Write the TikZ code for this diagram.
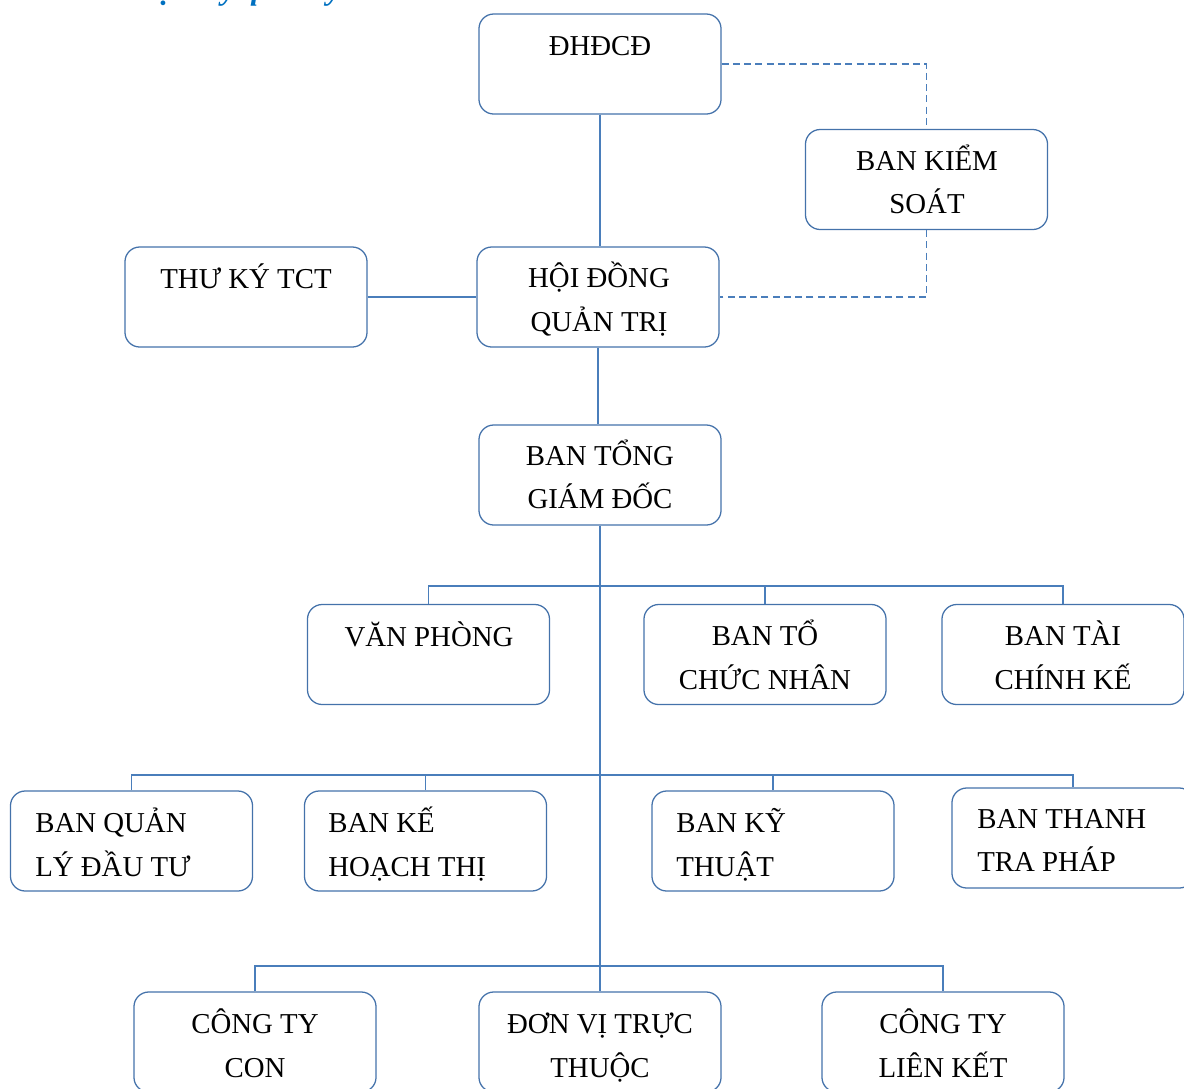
\documentclass[tikz,border=0pt]{standalone}
\usepackage{fontspec}
\setmainfont{Liberation Serif}
\usetikzlibrary{calc}
\definecolor{boxblue}{RGB}{68,114,170}
\definecolor{lineblue}{RGB}{74,126,187}
\definecolor{titleblue}{RGB}{0,112,192}

\begin{document}
\begin{tikzpicture}[x=0.025cm,y=-0.025cm,
  box/.style={draw=boxblue,line width=0.9pt,rounded corners=10.5pt,minimum width=6.05cm,minimum height=2.5cm,inner sep=0pt},
  txt/.style={font=\fontsize{20.5}{24}\selectfont,inner sep=0pt,anchor=base},
  txtl/.style={txt,anchor=base west},
  link/.style={draw=lineblue,line width=1.3pt},
  dashlink/.style={link,dashed,dash pattern=on 5pt off 3pt}]
  \useasboundingbox (0,0) rectangle (1184,1088);
  \node[txtl,font=\fontsize{22.5}{26}\selectfont\bfseries\itshape,text=titleblue] (title) at (136,-1) {Bộ máy quản lý};

  \node[box] (dhdcd) at (600,64) {};
  \node[box] (bks) at (926.5,179.5) {};
  \node[box] (thuky) at (246,297) {};
  \node[box] (hdqt) at (598,297) {};
  \node[box] (btgd) at (600,475) {};
  \node[box] (vp) at (428.5,654.5) {};
  \node[box] (btc) at (765,654.5) {};
  \node[box] (btck) at (1063,654.5) {};
  \node[box] (bql) at (131.5,841) {};
  \node[box] (bkh) at (425.5,841) {};
  \node[box] (bkt) at (773,841) {};
  \node[box] (btt) at (1073,838) {};
  \node[box] (ctc) at (255,1042) {};
  \node[box] (dvtt) at (600,1042) {};
  \node[box] (ctlk) at (943,1042) {};

  \node[txt] (dhdcdA) at (600,55) {ĐHĐCĐ};
  \node[txt] (bksA) at (927,170) {BAN KIỂM};
  \node[txt] (bksB) at (927,213) {SOÁT};
  \node[txt] (thukyA) at (246,288) {THƯ KÝ TCT};
  \node[txt] (hdqtA) at (599,287) {HỘI ĐỒNG};
  \node[txt] (hdqtB) at (599,331) {QUẢN TRỊ};
  \node[txt] (btgdA) at (600,465) {BAN TỔNG};
  \node[txt] (btgdB) at (600,508) {GIÁM ĐỐC};
  \node[txt] (vpA) at (429,646) {VĂN PHÒNG};
  \node[txt] (btcA) at (765,645) {BAN TỔ};
  \node[txt] (btcB) at (765,689) {CHỨC NHÂN};
  \node[txt] (btckA) at (1063,645) {BAN TÀI};
  \node[txt] (btckB) at (1063,689) {CHÍNH KẾ};
  \node[txtl] (bqlA) at (35,832) {BAN QUẢN};
  \node[txtl] (bqlB) at (35,876) {LÝ ĐẦU TƯ};
  \node[txtl] (bkhA) at (328,832) {BAN KẾ};
  \node[txtl] (bkhB) at (328,876) {HOẠCH THỊ};
  \node[txtl] (bktA) at (676,832) {BAN KỸ};
  \node[txtl] (bktB) at (676,876) {THUẬT};
  \node[txtl] (bttA) at (977,828) {BAN THANH};
  \node[txtl] (bttB) at (977,871) {TRA PHÁP};
  \node[txt] (ctcA) at (255,1033) {CÔNG TY};
  \node[txt] (ctcB) at (255,1077) {CON};
  \node[txt] (dvttA) at (600,1033) {ĐƠN VỊ TRỰC};
  \node[txt] (dvttB) at (600,1077) {THUỘC};
  \node[txt] (ctlkA) at (943,1033) {CÔNG TY};
  \node[txt] (ctlkB) at (943,1077) {LIÊN KẾT};

  \coordinate (bus1) at (600,586);
  \coordinate (bus2) at (600,775);
  \coordinate (bus3) at (600,966);

  \draw[link] (dhdcd.south) -- (dhdcd.south |- hdqt.north);
  \draw[dashlink] (dhdcd.east) -| (bks.north);
  \draw[dashlink] (bks.south) |- (hdqt.east);
  \draw[link] (thuky.east) -- (hdqt.west);
  \draw[link] (hdqt.south) -- (hdqt.south |- btgd.north);
  \draw[link] (btgd.south) -- (dvtt.north);
  \draw[link] (vp.north) |- (bus1) -| (btck.north);
  \draw[link] (btc.north) -- (btc.north |- bus1);
  \draw[link] (bql.north) |- (bus2) -| (btt.north);
  \draw[link] (bkh.north) -- (bkh.north |- bus2);
  \draw[link] (bkt.north) -- (bkt.north |- bus2);
  \draw[link] (ctc.north) |- (bus3) -| (ctlk.north);
\end{tikzpicture}
\end{document}
